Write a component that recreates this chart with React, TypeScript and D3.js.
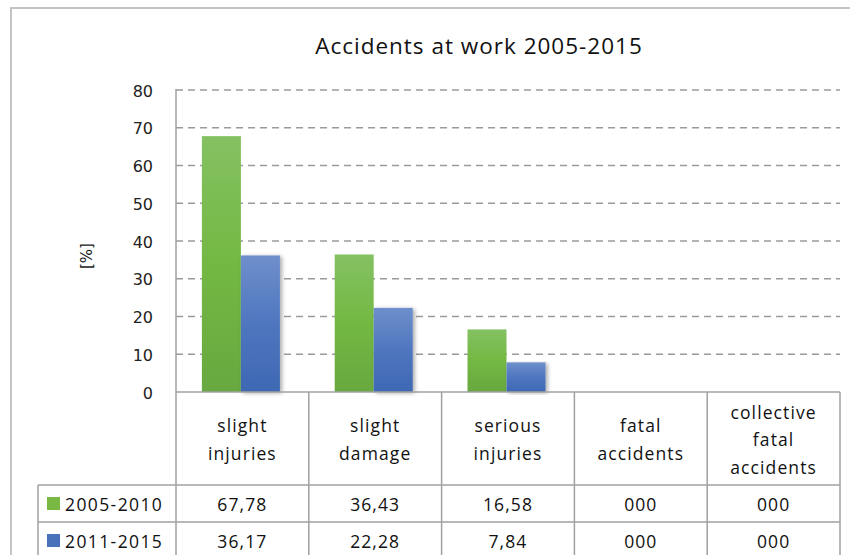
import React from "react";
import * as d3 from "d3";

const categories: string[][] = [
  ["slight", "injuries"],
  ["slight", "damage"],
  ["serious", "injuries"],
  ["fatal", "accidents"],
  ["collective", "fatal", "accidents"],
];
const seriesNames = ["2005-2010", "2011-2015"];
const values2005 = [67.78, 36.43, 16.58, 0, 0];
const values2011 = [36.17, 22.28, 7.84, 0, 0];
const labels2005 = ["67,78", "36,43", "16,58", "000", "000"];
const labels2011 = ["36,17", "22,28", "7,84", "000", "000"];
const yTicks = [0, 10, 20, 30, 40, 50, 60, 70, 80];

const W = 850;
const H = 555;
const plotLeft = 176;
const plotRight = 840;
const plotTop = 90;
const plotBottom = 392;
const headerBottom = 485;
const row1Bottom = 522;
const legendLeft = 38;
const tableFont = "'Open Sans', 'Liberation Sans', sans-serif";

export default function App() {
  const x = d3
    .scaleBand<number>()
    .domain(d3.range(categories.length))
    .range([plotLeft, plotRight])
    .paddingInner(0)
    .paddingOuter(0);
  const y = d3.scaleLinear().domain([0, 80]).range([plotBottom, plotTop]);
  const bw = x.bandwidth();
  const barW = 39;
  const series = [
    { name: seriesNames[0], values: values2005, labels: labels2005, fill: "url(#gGreen)", sw: "#78b843" },
    { name: seriesNames[1], values: values2011, labels: labels2011, fill: "url(#gBlue)", sw: "#4a72bb" },
  ];
  const lineCol = "#a0a0a0";

  return (
    <svg width={W} height={H} style={{ position: "absolute", left: 0, top: 0 }}>
      <defs>
        <linearGradient id="gGreen" x1="0" y1="0" x2="0" y2="1">
          <stop offset="0" stopColor="#84c162" />
          <stop offset="0.5" stopColor="#74b843" />
          <stop offset="1" stopColor="#68a840" />
        </linearGradient>
        <linearGradient id="gBlue" x1="0" y1="0" x2="0" y2="1">
          <stop offset="0" stopColor="#6e8fcb" />
          <stop offset="0.5" stopColor="#4f76bf" />
          <stop offset="1" stopColor="#3e68b3" />
        </linearGradient>
        <filter id="shadow" x="-20%" y="-5%" width="150%" height="115%">
          <feGaussianBlur in="SourceAlpha" stdDeviation="2" />
          <feOffset dx="2" dy="1" result="b" />
          <feComponentTransfer>
            <feFuncA type="linear" slope="0.35" />
          </feComponentTransfer>
          <feMerge>
            <feMergeNode />
            <feMergeNode in="SourceGraphic" />
          </feMerge>
        </filter>
      </defs>
      <rect x={0} y={0} width={W} height={H} fill="#fff" />
      {/* outer frame */}
      <rect x={11} y={8} width={W + 20} height={H + 20} fill="none" stroke="#c4c4c4" strokeWidth={2} />

      <text
        x={479}
        y={54}
        textAnchor="middle"
        fontFamily={tableFont}
        fontSize={22.5}
        letterSpacing={1}
        fill="#111"
      >
        Accidents at work 2005-2015
      </text>

      {/* gridlines */}
      {yTicks.filter((t) => t > 0).map((t) => (
        <line
          key={t}
          x1={plotLeft}
          x2={plotRight}
          y1={y(t)}
          y2={y(t)}
          stroke="#9a9a9a"
          strokeWidth={1.5}
          strokeDasharray="7,5"
        />
      ))}

      {/* y tick labels */}
      {yTicks.map((t) => (
        <text
          key={t}
          x={153}
          y={y(t) + 6.5}
          textAnchor="end"
          fontFamily="'DejaVu Sans', sans-serif"
          fontSize={16}
          fill="#222"
        >
          {t}
        </text>
      ))}
      <text
        transform={`translate(92,256) rotate(-90)`}
        textAnchor="middle"
        fontFamily="'DejaVu Sans', sans-serif"
        fontSize={15}
        fill="#222"
      >
        [%]
      </text>

      {/* bars */}
      {series.map((s, si) =>
        s.values.map((v, i) => {
          const x0 = (x(i) as number) + bw / 2 - 1.5 - barW + si * barW;
          if (v <= 0) return null;
          return (
            <rect
              key={`${si}-${i}`}
              x={x0}
              y={y(v)}
              width={barW}
              height={plotBottom - y(v)}
              fill={s.fill}
              filter={si === 1 ? "url(#shadow)" : undefined}
            />
          );
        })
      )}

      {/* axis lines */}
      <line x1={plotLeft} x2={plotLeft} y1={plotTop - 1} y2={H} stroke={lineCol} strokeWidth={1.5} />
      <line x1={plotLeft} x2={plotRight} y1={plotBottom} y2={plotBottom} stroke={lineCol} strokeWidth={1.5} />

      {/* table verticals */}
      {d3.range(1, categories.length + 1).map((i) => (
        <line
          key={i}
          x1={plotLeft + i * bw}
          x2={plotLeft + i * bw}
          y1={plotBottom}
          y2={H}
          stroke={lineCol}
          strokeWidth={1.5}
        />
      ))}
      {/* table horizontals */}
      <line x1={legendLeft} x2={plotRight} y1={headerBottom} y2={headerBottom} stroke={lineCol} strokeWidth={1.5} />
      <line x1={legendLeft} x2={plotRight} y1={row1Bottom} y2={row1Bottom} stroke={lineCol} strokeWidth={1.5} />
      <line x1={legendLeft} x2={legendLeft} y1={headerBottom} y2={H} stroke={lineCol} strokeWidth={1.5} />

      {/* category headers */}
      {categories.map((lines, i) => {
        const cx = (x(i) as number) + bw / 2;
        const lh = 27.5;
        const mid = (plotBottom + headerBottom) / 2 + 7.5;
        const start = mid - ((lines.length - 1) * lh) / 2;
        return (
          <text key={i} textAnchor="middle" fontFamily={tableFont} fontSize={17.5} letterSpacing={1.1} fill="#111">
            {lines.map((l, j) => (
              <tspan key={j} x={cx} y={start + j * lh}>
                {l}
              </tspan>
            ))}
          </text>
        );
      })}

      {/* data rows */}
      {series.map((s, si) => {
        const rowTop = si === 0 ? headerBottom : row1Bottom;
        const ty = rowTop + 26;
        return (
          <g key={si}>
            <rect x={47} y={rowTop + 12} width={13} height={13} fill={s.sw} />
            <text x={65} y={ty} fontFamily={tableFont} fontSize={17.5} letterSpacing={1.4} fill="#111">
              {s.name}
            </text>
            {s.labels.map((l, i) => (
              <text
                key={i}
                x={(x(i) as number) + bw / 2}
                y={ty}
                textAnchor="middle"
                fontFamily={tableFont}
                fontSize={17.5}
                letterSpacing={1.1}
                fill="#111"
              >
                {l}
              </text>
            ))}
          </g>
        );
      })}
    </svg>
  );
}
